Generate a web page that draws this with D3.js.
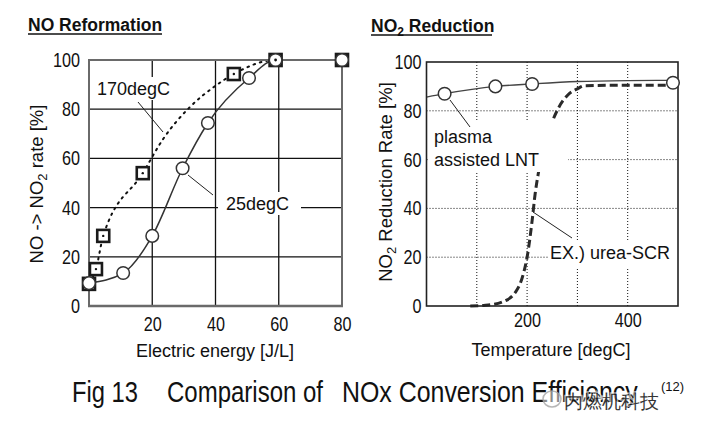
<!DOCTYPE html>
<html><head><meta charset="utf-8">
<script src="https://cdn.jsdelivr.net/npm/d3@7"></script>
<style>
body{margin:0;background:#fff}
svg{display:block}
text{font-family:"Liberation Sans",Arial,sans-serif;fill:#111}
</style></head><body>
<script>
// ---------- data ----------
const energyTicks = [20, 40, 60, 80];
const rateTicks = [0, 20, 40, 60, 80, 100];
const tempTicks = [200, 400];
const tempGrid = [100, 200, 300, 400];
const rateGrid = [20, 40, 60, 80];

const energy25 = [0, 10.8, 20, 29.6, 37.6, 50.6, 59, 80];
const rate25   = [9.3, 13.4, 28.5, 56, 74.4, 92.7, 100, 100];

const energy170 = [0, 2.2, 4.5, 17, 45.8, 59, 80];
const rate170   = [9, 15, 28.5, 54, 94.3, 100, 100];
const curve170Energy = [0, 2.2, 4.5, 17, 23.5, 32, 40, 45.8, 59, 80];
const curve170Rate   = [9, 15, 28.5, 54, 68, 81, 89.5, 94.3, 100, 100];

const lntTemp = [36, 137, 210, 490];
const lntRate = [87, 90, 91, 91.5];
const lntCurveTemp = [0, 36, 137, 210, 300, 400, 500];
const lntCurveRate = [85.6, 87, 90, 91, 92, 92.4, 92.5];

const scrTemp = [87, 117, 150, 177, 193, 200, 210, 216, 222, 235, 250, 262, 281, 300, 315, 400, 480];
const scrRate = [0, 0.3, 1.6, 5.7, 13.5, 20, 35, 46, 54, 66, 75.5, 81, 86.5, 89, 90.3, 90.5, 90.5];

// ---------- svg ----------
const svg = d3.select("body").append("svg").attr("width", 713).attr("height", 432);

const xL = d3.scaleLinear().domain([0, 80]).range([89, 342]);
const yL = d3.scaleLinear().domain([0, 100]).range([306, 60]);
const xR = d3.scaleLinear().domain([0, 500]).range([426.5, 678]);
const yR = d3.scaleLinear().domain([0, 100]).range([306, 62]);

const zip = (a, b) => a.map((v, i) => [v, b[i]]);

// ---------- LEFT CHART ----------
const L = svg.append("g");
L.selectAll(".gv").data(energyTicks.slice(0, 3)).join("line")
  .attr("x1", d => xL(d)).attr("x2", d => xL(d)).attr("y1", yL(0)).attr("y2", yL(100))
  .attr("stroke", "#111").attr("stroke-width", 1.3);
L.selectAll(".gh").data(rateGrid).join("line")
  .attr("x1", xL(0)).attr("x2", xL(80)).attr("y1", d => yL(d)).attr("y2", d => yL(d))
  .attr("stroke", "#111").attr("stroke-width", 1.3);

const lineL = d3.line().x(d => xL(d[0])).y(d => yL(d[1])).curve(d3.curveMonotoneX);
L.append("path").datum(zip(curve170Energy, curve170Rate)).attr("d", lineL)
  .attr("fill", "none").attr("stroke", "#111").attr("stroke-width", 2)
  .attr("stroke-dasharray", "1.6,5").attr("stroke-linecap", "round");
L.append("path").datum(zip(energy25, rate25)).attr("d", lineL)
  .attr("fill", "none").attr("stroke", "#333").attr("stroke-width", 1.5);

L.append("rect").attr("x", 94).attr("y", 77).attr("width", 82).attr("height", 23).attr("fill", "#fff");
L.append("rect").attr("x", 218).attr("y", 192).attr("width", 83).attr("height", 23).attr("fill", "#fff");

L.append("rect").attr("x", xL(0)).attr("y", yL(100)).attr("width", xL(80) - xL(0)).attr("height", yL(0) - yL(100))
  .attr("fill", "none").attr("stroke", "#6a6a6a").attr("stroke-width", 2);
L.append("line").attr("x1", xL(0) - 1).attr("x2", xL(80) + 1).attr("y1", yL(0)).attr("y2", yL(0))
  .attr("stroke", "#6a6a6a").attr("stroke-width", 2.6);

const sq = 12;
L.selectAll(".sq").data(zip(energy170, rate170)).join("rect")
  .attr("x", d => xL(d[0]) - sq / 2).attr("y", d => yL(d[1]) - sq / 2)
  .attr("width", sq).attr("height", sq)
  .attr("fill", "#fff").attr("stroke", "#1a1a1a").attr("stroke-width", 2.6);
L.selectAll(".sqd").data(zip(energy170, rate170)).join("circle")
  .attr("cx", d => xL(d[0])).attr("cy", d => yL(d[1])).attr("r", 1.2).attr("fill", "#111");
L.selectAll(".ci").data(zip(energy25, rate25)).join("circle")
  .attr("cx", d => xL(d[0])).attr("cy", d => yL(d[1])).attr("r", 6.3)
  .attr("fill", "#fff").attr("stroke", "#333").attr("stroke-width", 1.5);
L.selectAll(".sqd2").data(zip(energy170, rate170).filter(d => d[1] === 100 && d[0] < 70)).join("circle")
  .attr("cx", d => xL(d[0])).attr("cy", d => yL(d[1])).attr("r", 1.4).attr("fill", "#111");

const axL = L.append("g").attr("transform", `translate(${xL(0)},0)`)
  .call(d3.axisLeft(yL).tickValues(rateTicks).tickSize(0).tickPadding(9));
const axB = L.append("g").attr("transform", `translate(0,${yL(0)})`)
  .call(d3.axisBottom(xL).tickValues(energyTicks).tickSize(0).tickPadding(11));
[axL, axB].forEach(a => {
  a.select(".domain").remove();
  a.selectAll("text").attr("font-size", 20).attr("fill", "#111")
    .attr("font-family", "Liberation Sans, Arial, sans-serif")
    .attr("textLength", function () { return this.textContent.length * 9; })
    .attr("lengthAdjust", "spacingAndGlyphs");
});

L.append("text").attr("x", 97).attr("y", 95).attr("font-size", 18).text("170degC");
L.append("line").attr("x1", 138).attr("y1", 102).attr("x2", 163).attr("y2", 132).attr("stroke", "#222").attr("stroke-width", 1);
L.append("text").attr("x", 226).attr("y", 210).attr("font-size", 18).text("25degC");
L.append("line").attr("x1", 188).attr("y1", 175).attr("x2", 213).attr("y2", 195).attr("stroke", "#222").attr("stroke-width", 1);

L.append("text").attr("x", 28).attr("y", 31).attr("font-size", 17.5).attr("font-weight", "bold").text("NO Reformation");
L.append("line").attr("x1", 28).attr("x2", 162).attr("y1", 34).attr("y2", 34).attr("stroke", "#111").attr("stroke-width", 1.6);

L.append("text").attr("x", 215).attr("y", 357).attr("font-size", 18).attr("text-anchor", "middle").text("Electric energy [J/L]");

const yl = L.append("text").attr("transform", "translate(43,184) rotate(-90)")
  .attr("text-anchor", "middle").attr("font-size", 18.5);
yl.append("tspan").text("NO -> NO");
yl.append("tspan").attr("font-size", 13).attr("dy", 4).text("2");
yl.append("tspan").attr("dy", -4).text(" rate [%]");

// ---------- RIGHT CHART ----------
const R = svg.append("g");
R.selectAll(".gv").data(tempGrid).join("line")
  .attr("x1", d => xR(d)).attr("x2", d => xR(d)).attr("y1", yR(0)).attr("y2", yR(100))
  .attr("stroke", "#111").attr("stroke-width", 1).attr("stroke-dasharray", "1,2");
R.selectAll(".gh").data(rateGrid).join("line")
  .attr("x1", xR(0)).attr("x2", xR(500)).attr("y1", d => yR(d)).attr("y2", d => yR(d))
  .attr("stroke", "#111").attr("stroke-width", 1).attr("stroke-dasharray", "1,2");

const lineR = d3.line().x(d => xR(d[0])).y(d => yR(d[1])).curve(d3.curveMonotoneX);
R.append("path").datum(zip(scrTemp, scrRate)).attr("d", lineR)
  .attr("fill", "none").attr("stroke", "#2a2a2a").attr("stroke-width", 3).attr("stroke-dasharray", "8,4");
R.append("path").datum(zip(lntCurveTemp, lntCurveRate)).attr("d", lineR)
  .attr("fill", "none").attr("stroke", "#444").attr("stroke-width", 1.3);

R.append("rect").attr("x", 428).attr("y", 121).attr("width", 140).attr("height", 51).attr("fill", "#fff");
R.append("rect").attr("x", 548).attr("y", 240).attr("width", 129).attr("height", 27).attr("fill", "#fff");

R.append("rect").attr("x", xR(0)).attr("y", yR(100)).attr("width", xR(500) - xR(0)).attr("height", yR(0) - yR(100))
  .attr("fill", "none").attr("stroke", "#222").attr("stroke-width", 1.6);

R.selectAll(".ci").data(zip(lntTemp, lntRate)).join("circle")
  .attr("cx", d => xR(d[0])).attr("cy", d => yR(d[1])).attr("r", 6.3)
  .attr("fill", "#fff").attr("stroke", "#333").attr("stroke-width", 1.5);

const axRL = R.append("g").attr("transform", `translate(${xR(0)},0)`)
  .call(d3.axisLeft(yR).tickValues(rateTicks).tickSize(0).tickPadding(5));
const axRB = R.append("g").attr("transform", `translate(0,${yR(0)})`)
  .call(d3.axisBottom(xR).tickValues(tempTicks).tickSize(0).tickPadding(7));
[axRL, axRB].forEach(a => {
  a.select(".domain").remove();
  a.selectAll("text").attr("font-size", 20).attr("fill", "#111")
    .attr("font-family", "Liberation Sans, Arial, sans-serif")
    .attr("textLength", function () { return this.textContent.length * 9; })
    .attr("lengthAdjust", "spacingAndGlyphs");
});

R.append("text").attr("x", 434).attr("y", 143).attr("font-size", 18).text("plasma");
R.append("text").attr("x", 434).attr("y", 166).attr("font-size", 18).text("assisted LNT");
R.append("line").attr("x1", 450).attr("y1", 100).attr("x2", 470).attr("y2", 127).attr("stroke", "#222").attr("stroke-width", 1);
R.append("text").attr("x", 550).attr("y", 259).attr("font-size", 18).text("EX.) urea-SCR");
R.append("line").attr("x1", 533).attr("y1", 212).attr("x2", 572).attr("y2", 238).attr("stroke", "#222").attr("stroke-width", 1);

const t2 = R.append("text").attr("x", 371).attr("y", 32).attr("font-size", 17.5).attr("font-weight", "bold");
t2.append("tspan").text("NO");
t2.append("tspan").attr("font-size", 12).attr("dy", 4).text("2");
t2.append("tspan").attr("dy", -4).text(" Reduction");
R.append("line").attr("x1", 371).attr("x2", 492).attr("y1", 35).attr("y2", 35).attr("stroke", "#111").attr("stroke-width", 1.6);

R.append("text").attr("x", 551).attr("y", 356).attr("font-size", 18).attr("text-anchor", "middle").text("Temperature [degC]");

const yr = R.append("text").attr("transform", "translate(392,182) rotate(-90)")
  .attr("text-anchor", "middle").attr("font-size", 18.5);
yr.append("tspan").text("NO");
yr.append("tspan").attr("font-size", 13).attr("dy", 4).text("2");
yr.append("tspan").attr("dy", -4).text(" Reduction Rate [%]");

// ---------- caption ----------
const cap = svg.append("g");
const capParts = [["Fig 13", 72, 66], ["Comparison of", 167, 156], ["NOx Conversion Efficiency", 342, 296]];
cap.selectAll("text").data(capParts).join("text")
  .attr("x", 0).attr("y", 0).attr("font-size", 29)
  .attr("font-family", "Liberation Serif, Times New Roman, serif")
  .text(d => d[0])
  .attr("transform", function (d) {
    const w = this.getComputedTextLength();
    return `translate(${d[1]},402) scale(${d[2] / w},1)`;
  });
cap.append("text").attr("x", 661).attr("y", 391).attr("font-size", 13)
  .attr("font-family", "Liberation Serif, Times New Roman, serif").text("(12)");

// watermark
const wm = svg.append("g").attr("opacity", 0.85);
wm.append("ellipse").attr("cx", 552).attr("cy", 399).attr("rx", 9).attr("ry", 8)
  .attr("fill", "rgba(255,255,255,0.6)").attr("stroke", "#aaa").attr("stroke-width", 1.5);
wm.append("text").attr("x", 564).attr("y", 408).attr("font-size", 18.5)
  .attr("font-family", "Noto Sans CJK SC, sans-serif")
  .attr("fill", "#a8a8a8").attr("stroke", "rgba(255,255,255,0.7)").attr("stroke-width", 3)
  .attr("paint-order", "stroke").text("内燃机科技");
</script>
</body></html>
